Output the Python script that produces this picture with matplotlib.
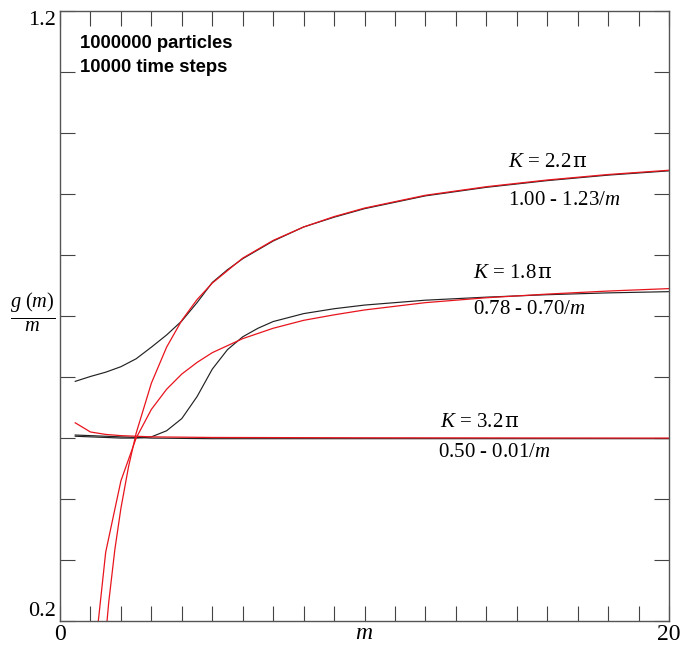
import numpy as np
import matplotlib.pyplot as plt

plt.rcParams['font.family'] = ['Liberation Serif', 'DejaVu Serif']
plt.rcParams['mathtext.fontset'] = 'custom'
plt.rcParams['mathtext.rm'] = 'Liberation Serif'
plt.rcParams['mathtext.it'] = 'Liberation Serif:italic'
plt.rcParams['mathtext.sf'] = 'DejaVu Serif'

# simulation curves (black)
m_22 = [0.5, 1, 1.5, 2, 2.5, 3, 3.5, 4, 4.5, 5, 5.5, 6, 7, 8, 9, 10, 12, 14, 16, 18, 20]
g_22 = [0.593, 0.601, 0.608, 0.617, 0.630, 0.649, 0.669, 0.692, 0.722, 0.755, 0.776, 0.794,
        0.823, 0.846, 0.862, 0.876, 0.897, 0.911, 0.922, 0.931, 0.938]

m_18 = [0.5, 1, 1.5, 2, 2.5, 3, 3.5, 4, 4.5, 5, 5.5, 6, 6.5, 7, 8, 9, 10, 12, 14, 16, 18, 20]
g_18 = [0.503, 0.502, 0.501, 0.500, 0.500, 0.502, 0.512, 0.532, 0.568, 0.613, 0.645, 0.666,
        0.680, 0.691, 0.704, 0.712, 0.718, 0.726, 0.731, 0.735, 0.738, 0.740]

m_32 = [0.5, 1, 2, 3, 5, 10, 15, 20]
g_32 = [0.505, 0.504, 0.502, 0.500, 0.499, 0.499, 0.499, 0.499]

# fitted curves (red)
mf_22 = [1.4, 1.6, 1.8, 2.0, 2.25, 2.5, 3, 3.5, 4, 4.5, 5, 6, 7, 8, 9, 10, 12, 14, 16, 18, 20]
f_22 = [0.121, 0.231, 0.317, 0.385, 0.453, 0.508, 0.590, 0.649, 0.693, 0.727, 0.754, 0.795,
        0.824, 0.846, 0.863, 0.877, 0.898, 0.912, 0.923, 0.932, 0.939]

mf_18 = [1.0, 1.5, 2, 2.5, 3, 3.5, 4, 4.5, 5, 6, 7, 8, 9, 10, 12, 14, 16, 18, 20]
f_18 = [0.080, 0.313, 0.430, 0.500, 0.547, 0.580, 0.605, 0.624, 0.640, 0.663, 0.680, 0.693,
        0.702, 0.710, 0.722, 0.730, 0.736, 0.741, 0.745]

mf_32 = [0.5, 1.0, 1.5, 2, 3, 5, 10, 20]
f_32 = [0.525, 0.510, 0.506, 0.504, 0.502, 0.501, 0.5005, 0.500]

labels_K = [r'$K$ = 2.2$\,\mathsf{\pi}$', r'$K$ = 1.8$\,\mathsf{\pi}$', r'$K$ = 3.2$\,\mathsf{\pi}$']
labels_fit = ['1.00 - 1.23/$m$', '0.78 - 0.70/$m$', '0.50 - 0.01/$m$']

fig = plt.figure(figsize=(6.82, 6.47), dpi=100)
ax = fig.add_axes([0.088, 0.040, 0.893, 0.943])

for mm, gg in [(m_22, g_22), (m_18, g_18), (m_32, g_32)]:
  ax.plot(mm, gg, color='#222222', lw=0.85)
for mm, ff in [(mf_22, f_22), (mf_18, f_18), (mf_32, f_32)]:
  ax.plot(mm, ff, color='#e8141c', lw=0.9)

ax.set_xlim(0, 20)
ax.set_ylim(0.2, 1.2)
ax.set_xticks(np.arange(0, 21, 1))
ax.set_xticklabels(['0'] + [''] * 19 + ['20'])
ax.set_yticks(np.round(np.arange(0.2, 1.21, 0.1), 1))
ax.set_yticklabels(['0.2'] + [''] * 9 + ['1.2'])
ax.tick_params(direction='in', length=11, width=0.8, color='#444444',
               top=True, right=True, pad=3)
ax.tick_params(axis='x', labelsize=17, pad=2)
ax.tick_params(axis='y', labelsize=16, pad=3)
ax.get_yticklabels()[0].set_va('bottom')
ax.get_yticklabels()[-1].set_va('top')
for s in ax.spines.values():
  s.set_color('#555555')
  s.set_linewidth(1.0)

ax.set_xlabel('$m$', fontsize=17, labelpad=-16)
ax.text(-0.045, 0.505, r'$\frac{g\ (m)}{m}$', transform=ax.transAxes, fontsize=21,
        ha='center', va='center')

ax.text(0.66, 1.146, '1000000 particles', family='Liberation Sans', weight='bold',
        fontsize=13.3, va='center')
ax.text(0.66, 1.108, '10000 time steps', family='Liberation Sans', weight='bold',
        fontsize=13.3, va='center')

pos_K = [(14.71, 0.951), (13.56, 0.770), (12.48, 0.526)]
pos_fit = [(14.71, 0.890), (13.56, 0.710), (12.40, 0.477)]
for (x, y), t in zip(pos_K, labels_K):
  ax.text(x, y, t, fontsize=15, va='center')
for (x, y), t in zip(pos_fit, labels_fit):
  ax.text(x, y, t, fontsize=15, va='center')

plt.savefig('out.png', dpi=100)
